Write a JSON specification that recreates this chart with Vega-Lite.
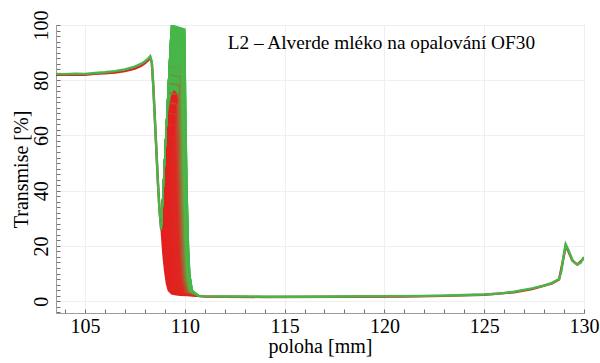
{
  "$schema": "https://vega.github.io/schema/vega-lite/v6.json",
  "width": 528,
  "height": 288,
  "autosize": {"type": "none"},
  "padding": {"left": 56, "top": 25, "right": 16, "bottom": 50},
  "background": "white",
  "config": {
    "font": "Liberation Serif, Times New Roman, Tinos, DejaVu Serif, serif",
    "view": {"stroke": "#9c9c9c", "strokeWidth": 1},
    "axis": {
      "domainColor": "#9c9c9c",
      "tickColor": "#707070",
      "labelFont": "Liberation Serif, Times New Roman, Tinos, DejaVu Serif, serif",
      "titleFont": "Liberation Serif, Times New Roman, Tinos, DejaVu Serif, serif",
      "labelFontSize": 20,
      "titleFontSize": 20,
      "labelColor": "black",
      "titleColor": "black",
      "titleFontWeight": "normal",
      "gridColor": "#efefef"
    }
  },
  "datasets": {
    "bands": [
      {"k": 23, "x": 108.82, "lo": 26, "hi": 26}, {"k": 23, "x": 108.91, "lo": 16.8, "hi": 39.1}, {"k": 23, "x": 109.0, "lo": 10.6, "hi": 52.1}, {"k": 23, "x": 109.09, "lo": 6.2, "hi": 65.2}, {"k": 23, "x": 109.18, "lo": 3.8, "hi": 78.3}, {"k": 23, "x": 109.33, "lo": 2.7, "hi": 100}, {"k": 23, "x": 109.36, "lo": 2.6, "hi": 99.9}, {"k": 23, "x": 109.8, "lo": 2.1, "hi": 99.0}, {"k": 23, "x": 110.0, "lo": 2.0, "hi": 98.5}, {"k": 23, "x": 110.063, "lo": 2.0, "hi": 61.8}, {"k": 23, "x": 110.125, "lo": 2.0, "hi": 36.7}, {"k": 23, "x": 110.188, "lo": 2.0, "hi": 19.3}, {"k": 23, "x": 110.25, "lo": 2.0, "hi": 9.6}, {"k": 23, "x": 110.375, "lo": 1.95, "hi": 3.8}, {"k": 23, "x": 110.7, "lo": 1.9, "hi": 1.9},
      {"k": 0, "x": 108.82, "lo": 26, "hi": 26}, {"k": 0, "x": 108.91, "lo": 16.8, "hi": 37.5}, {"k": 0, "x": 109.0, "lo": 10.6, "hi": 49.0}, {"k": 0, "x": 109.09, "lo": 6.2, "hi": 60.5}, {"k": 0, "x": 109.16, "lo": 4.3, "hi": 68.0}, {"k": 0, "x": 109.3, "lo": 2.8, "hi": 74.0}, {"k": 0, "x": 109.45, "lo": 2.5, "hi": 76.5}, {"k": 0, "x": 109.6, "lo": 2.3, "hi": 75.5}, {"k": 0, "x": 109.679, "lo": 2.2, "hi": 72.8}, {"k": 0, "x": 109.756, "lo": 2.15, "hi": 47.1}, {"k": 0, "x": 109.833, "lo": 2.1, "hi": 28.1}, {"k": 0, "x": 109.909, "lo": 2.05, "hi": 15.0}, {"k": 0, "x": 109.986, "lo": 2.0, "hi": 7.7}, {"k": 0, "x": 110.14, "lo": 2.0, "hi": 3.4}, {"k": 0, "x": 110.4, "lo": 1.9, "hi": 2.3}
    ],
    "base": [
      {"id": "Lr", "k": 0, "x": 103.55, "y": 82.0}, {"id": "Lr", "k": 0, "x": 104, "y": 82.0}, {"id": "Lr", "k": 0, "x": 104.5, "y": 82.1}, {"id": "Lr", "k": 0, "x": 105, "y": 82.0}, {"id": "Lr", "k": 0, "x": 105.5, "y": 82.3}, {"id": "Lr", "k": 0, "x": 106, "y": 82.5}, {"id": "Lr", "k": 0, "x": 106.5, "y": 82.8}, {"id": "Lr", "k": 0, "x": 107, "y": 83.3}, {"id": "Lr", "k": 0, "x": 107.5, "y": 84.2}, {"id": "Lr", "k": 0, "x": 107.8, "y": 85.2}, {"id": "Lr", "k": 0, "x": 108.0, "y": 86.1}, {"id": "Lr", "k": 0, "x": 108.15, "y": 87.1}, {"id": "Lr", "k": 0, "x": 108.27, "y": 88.2}, {"id": "Lr", "k": 0, "x": 108.35, "y": 86.3}, {"id": "Lr", "k": 0, "x": 108.42, "y": 78.5}, {"id": "Lr", "k": 0, "x": 108.5, "y": 66.5}, {"id": "Lr", "k": 0, "x": 108.58, "y": 54.5}, {"id": "Lr", "k": 0, "x": 108.66, "y": 42.5}, {"id": "Lr", "k": 0, "x": 108.74, "y": 32.5}, {"id": "Lr", "k": 0, "x": 108.82, "y": 26},
      {"id": "Rr", "k": 0, "x": 110.7, "y": 1.8}, {"id": "Rr", "k": 0, "x": 111, "y": 1.7}, {"id": "Rr", "k": 0, "x": 112, "y": 1.6}, {"id": "Rr", "k": 0, "x": 114, "y": 1.5}, {"id": "Rr", "k": 0, "x": 118, "y": 1.6}, {"id": "Rr", "k": 0, "x": 121, "y": 1.7}, {"id": "Rr", "k": 0, "x": 123, "y": 1.9}, {"id": "Rr", "k": 0, "x": 125, "y": 2.3}, {"id": "Rr", "k": 0, "x": 126.5, "y": 3.2}, {"id": "Rr", "k": 0, "x": 127.4, "y": 4.4}, {"id": "Rr", "k": 0, "x": 128.4, "y": 6.4}, {"id": "Rr", "k": 0, "x": 128.75, "y": 7.8}, {"id": "Rr", "k": 0, "x": 128.97, "y": 15.5}, {"id": "Rr", "k": 0, "x": 129.08, "y": 20.0}, {"id": "Rr", "k": 0, "x": 129.22, "y": 18.0}, {"id": "Rr", "k": 0, "x": 129.42, "y": 14.6}, {"id": "Rr", "k": 0, "x": 129.67, "y": 13.2}, {"id": "Rr", "k": 0, "x": 130, "y": 15.6},
      {"id": "Lg", "k": 23, "x": 103.55, "y": 82.3}, {"id": "Lg", "k": 23, "x": 104, "y": 82.2}, {"id": "Lg", "k": 23, "x": 104.5, "y": 82.4}, {"id": "Lg", "k": 23, "x": 105, "y": 82.3}, {"id": "Lg", "k": 23, "x": 105.5, "y": 82.6}, {"id": "Lg", "k": 23, "x": 106, "y": 82.9}, {"id": "Lg", "k": 23, "x": 106.5, "y": 83.3}, {"id": "Lg", "k": 23, "x": 107, "y": 83.9}, {"id": "Lg", "k": 23, "x": 107.5, "y": 84.9}, {"id": "Lg", "k": 23, "x": 107.8, "y": 85.9}, {"id": "Lg", "k": 23, "x": 108.0, "y": 86.8}, {"id": "Lg", "k": 23, "x": 108.15, "y": 87.7}, {"id": "Lg", "k": 23, "x": 108.27, "y": 88.7}, {"id": "Lg", "k": 23, "x": 108.35, "y": 86.5}, {"id": "Lg", "k": 23, "x": 108.42, "y": 78.2}, {"id": "Lg", "k": 23, "x": 108.5, "y": 66.2}, {"id": "Lg", "k": 23, "x": 108.58, "y": 54.2}, {"id": "Lg", "k": 23, "x": 108.66, "y": 42.2}, {"id": "Lg", "k": 23, "x": 108.74, "y": 32.2}, {"id": "Lg", "k": 23, "x": 108.82, "y": 26},
      {"id": "Rg", "k": 23, "x": 110.7, "y": 1.9}, {"id": "Rg", "k": 23, "x": 111, "y": 1.8}, {"id": "Rg", "k": 23, "x": 112, "y": 1.7}, {"id": "Rg", "k": 23, "x": 113, "y": 1.7}, {"id": "Rg", "k": 23, "x": 114, "y": 1.6}, {"id": "Rg", "k": 23, "x": 116, "y": 1.6}, {"id": "Rg", "k": 23, "x": 118, "y": 1.7}, {"id": "Rg", "k": 23, "x": 120, "y": 1.8}, {"id": "Rg", "k": 23, "x": 121, "y": 1.8}, {"id": "Rg", "k": 23, "x": 122, "y": 1.9}, {"id": "Rg", "k": 23, "x": 123, "y": 2.0}, {"id": "Rg", "k": 23, "x": 124, "y": 2.2}, {"id": "Rg", "k": 23, "x": 125, "y": 2.4}, {"id": "Rg", "k": 23, "x": 125.75, "y": 2.7}, {"id": "Rg", "k": 23, "x": 126.5, "y": 3.4}, {"id": "Rg", "k": 23, "x": 127.4, "y": 4.6}, {"id": "Rg", "k": 23, "x": 128, "y": 5.6}, {"id": "Rg", "k": 23, "x": 128.4, "y": 6.6}, {"id": "Rg", "k": 23, "x": 128.75, "y": 8.0}, {"id": "Rg", "k": 23, "x": 128.87, "y": 11}, {"id": "Rg", "k": 23, "x": 128.97, "y": 16}, {"id": "Rg", "k": 23, "x": 129.08, "y": 20.6}, {"id": "Rg", "k": 23, "x": 129.22, "y": 18.5}, {"id": "Rg", "k": 23, "x": 129.42, "y": 14.9}, {"id": "Rg", "k": 23, "x": 129.55, "y": 13.8}, {"id": "Rg", "k": 23, "x": 129.67, "y": 13.4}, {"id": "Rg", "k": 23, "x": 129.83, "y": 13.9}, {"id": "Rg", "k": 23, "x": 130, "y": 16}
    ],
    "fan": [
      {"k": 0, "x": 108.82, "y": 26}, {"k": 0, "x": 108.91, "y": 16.8}, {"k": 0, "x": 109.0, "y": 10.6}, {"k": 0, "x": 109.09, "y": 6.2}, {"k": 0, "x": 109.18, "y": 3.8}, {"k": 0, "x": 109.36, "y": 2.6}, {"k": 0, "x": 109.8, "y": 2.1}, {"k": 0, "x": 110.7, "y": 1.9},
      {"k": 1, "x": 108.82, "y": 26}, {"k": 1, "x": 108.857, "y": 31.4}, {"k": 1, "x": 108.92, "y": 31.3}, {"k": 1, "x": 109.009, "y": 20.1}, {"k": 1, "x": 109.098, "y": 12.5}, {"k": 1, "x": 109.186, "y": 7.2}, {"k": 1, "x": 109.275, "y": 4.3}, {"k": 1, "x": 109.453, "y": 2.5}, {"k": 1, "x": 110.7, "y": 1.9},
      {"k": 2, "x": 108.82, "y": 26}, {"k": 2, "x": 108.893, "y": 36.6}, {"k": 2, "x": 109.016, "y": 36.5}, {"k": 2, "x": 109.104, "y": 23.4}, {"k": 2, "x": 109.191, "y": 14.4}, {"k": 2, "x": 109.279, "y": 8.1}, {"k": 2, "x": 109.366, "y": 4.7}, {"k": 2, "x": 109.541, "y": 2.6}, {"k": 2, "x": 110.7, "y": 1.9},
      {"k": 3, "x": 108.82, "y": 26}, {"k": 3, "x": 108.928, "y": 41.7}, {"k": 3, "x": 109.108, "y": 41.5}, {"k": 3, "x": 109.195, "y": 26.5}, {"k": 3, "x": 109.281, "y": 16.2}, {"k": 3, "x": 109.368, "y": 9.0}, {"k": 3, "x": 109.454, "y": 5.1}, {"k": 3, "x": 109.627, "y": 2.7}, {"k": 3, "x": 110.7, "y": 1.9},
      {"k": 4, "x": 108.82, "y": 26}, {"k": 4, "x": 108.961, "y": 46.5}, {"k": 4, "x": 109.195, "y": 46.3}, {"k": 4, "x": 109.28, "y": 29.4}, {"k": 4, "x": 109.366, "y": 17.9}, {"k": 4, "x": 109.451, "y": 9.9}, {"k": 4, "x": 109.536, "y": 5.5}, {"k": 4, "x": 109.707, "y": 2.8}, {"k": 4, "x": 110.7, "y": 1.9},
      {"k": 5, "x": 108.82, "y": 26}, {"k": 5, "x": 108.994, "y": 51.2}, {"k": 5, "x": 109.277, "y": 50.9}, {"k": 5, "x": 109.361, "y": 32.3}, {"k": 5, "x": 109.445, "y": 19.5}, {"k": 5, "x": 109.529, "y": 10.7}, {"k": 5, "x": 109.613, "y": 5.8}, {"k": 5, "x": 109.781, "y": 2.9}, {"k": 5, "x": 110.7, "y": 1.9},
      {"k": 6, "x": 108.82, "y": 26}, {"k": 6, "x": 109.025, "y": 55.7}, {"k": 6, "x": 109.355, "y": 55.3}, {"k": 6, "x": 109.438, "y": 35.0}, {"k": 6, "x": 109.521, "y": 21.1}, {"k": 6, "x": 109.603, "y": 11.5}, {"k": 6, "x": 109.686, "y": 6.2}, {"k": 6, "x": 109.852, "y": 3.0}, {"k": 6, "x": 110.7, "y": 1.9},
      {"k": 7, "x": 108.82, "y": 26}, {"k": 7, "x": 109.055, "y": 60.1}, {"k": 7, "x": 109.429, "y": 59.6}, {"k": 7, "x": 109.511, "y": 37.7}, {"k": 7, "x": 109.593, "y": 22.7}, {"k": 7, "x": 109.674, "y": 12.3}, {"k": 7, "x": 109.756, "y": 6.5}, {"k": 7, "x": 109.92, "y": 3.1}, {"k": 7, "x": 110.7, "y": 1.9},
      {"k": 8, "x": 108.82, "y": 26}, {"k": 8, "x": 109.083, "y": 64.2}, {"k": 8, "x": 109.498, "y": 63.7}, {"k": 8, "x": 109.579, "y": 40.2}, {"k": 8, "x": 109.659, "y": 24.1}, {"k": 8, "x": 109.74, "y": 13.0}, {"k": 8, "x": 109.82, "y": 6.8}, {"k": 8, "x": 109.981, "y": 3.1}, {"k": 8, "x": 110.7, "y": 1.9},
      {"k": 9, "x": 108.82, "y": 26}, {"k": 9, "x": 109.111, "y": 68.2}, {"k": 9, "x": 109.563, "y": 67.6}, {"k": 9, "x": 109.642, "y": 42.6}, {"k": 9, "x": 109.722, "y": 25.6}, {"k": 9, "x": 109.801, "y": 13.7}, {"k": 9, "x": 109.88, "y": 7.2}, {"k": 9, "x": 110.039, "y": 3.2}, {"k": 9, "x": 110.7, "y": 1.9},
      {"k": 10, "x": 108.82, "y": 26}, {"k": 10, "x": 109.137, "y": 72.0}, {"k": 10, "x": 109.623, "y": 71.3}, {"k": 10, "x": 109.701, "y": 44.9}, {"k": 10, "x": 109.779, "y": 26.9}, {"k": 10, "x": 109.857, "y": 14.4}, {"k": 10, "x": 109.935, "y": 7.5}, {"k": 10, "x": 110.091, "y": 3.3}, {"k": 10, "x": 110.7, "y": 1.9},
      {"k": 11, "x": 108.82, "y": 26}, {"k": 11, "x": 109.161, "y": 75.5}, {"k": 11, "x": 109.679, "y": 74.8}, {"k": 11, "x": 109.756, "y": 47.1}, {"k": 11, "x": 109.833, "y": 28.1}, {"k": 11, "x": 109.909, "y": 15.0}, {"k": 11, "x": 109.986, "y": 7.7}, {"k": 11, "x": 110.14, "y": 3.4}, {"k": 11, "x": 110.7, "y": 1.9},
      {"k": 12, "x": 108.82, "y": 26}, {"k": 12, "x": 109.185, "y": 78.9}, {"k": 12, "x": 109.73, "y": 78.1}, {"k": 12, "x": 109.806, "y": 49.1}, {"k": 12, "x": 109.882, "y": 29.3}, {"k": 12, "x": 109.957, "y": 15.6}, {"k": 12, "x": 110.033, "y": 8.0}, {"k": 12, "x": 110.185, "y": 3.4}, {"k": 12, "x": 110.7, "y": 1.9},
      {"k": 13, "x": 108.82, "y": 26}, {"k": 13, "x": 109.206, "y": 82.0}, {"k": 13, "x": 109.777, "y": 81.2}, {"k": 13, "x": 109.852, "y": 51.1}, {"k": 13, "x": 109.926, "y": 30.4}, {"k": 13, "x": 110.001, "y": 16.2}, {"k": 13, "x": 110.075, "y": 8.2}, {"k": 13, "x": 110.224, "y": 3.5}, {"k": 13, "x": 110.7, "y": 1.9},
      {"k": 14, "x": 108.82, "y": 26}, {"k": 14, "x": 109.227, "y": 85.0}, {"k": 14, "x": 109.819, "y": 84.1}, {"k": 14, "x": 109.892, "y": 52.9}, {"k": 14, "x": 109.966, "y": 31.5}, {"k": 14, "x": 110.039, "y": 16.7}, {"k": 14, "x": 110.112, "y": 8.5}, {"k": 14, "x": 110.259, "y": 3.5}, {"k": 14, "x": 110.7, "y": 1.9},
      {"k": 15, "x": 108.82, "y": 26}, {"k": 15, "x": 109.245, "y": 87.7}, {"k": 15, "x": 109.857, "y": 86.7}, {"k": 15, "x": 109.929, "y": 54.5}, {"k": 15, "x": 110.001, "y": 32.4}, {"k": 15, "x": 110.073, "y": 17.2}, {"k": 15, "x": 110.145, "y": 8.7}, {"k": 15, "x": 110.289, "y": 3.6}, {"k": 15, "x": 110.7, "y": 1.9},
      {"k": 16, "x": 108.82, "y": 26}, {"k": 16, "x": 109.263, "y": 90.2}, {"k": 16, "x": 109.891, "y": 89.2}, {"k": 16, "x": 109.962, "y": 56.0}, {"k": 16, "x": 110.033, "y": 33.3}, {"k": 16, "x": 110.103, "y": 17.6}, {"k": 16, "x": 110.174, "y": 8.9}, {"k": 16, "x": 110.316, "y": 3.6}, {"k": 16, "x": 110.7, "y": 1.9},
      {"k": 17, "x": 108.82, "y": 26}, {"k": 17, "x": 109.278, "y": 92.5}, {"k": 17, "x": 109.92, "y": 91.4}, {"k": 17, "x": 109.99, "y": 57.4}, {"k": 17, "x": 110.06, "y": 34.1}, {"k": 17, "x": 110.129, "y": 18.0}, {"k": 17, "x": 110.199, "y": 9.1}, {"k": 17, "x": 110.339, "y": 3.7}, {"k": 17, "x": 110.7, "y": 1.9},
      {"k": 18, "x": 108.82, "y": 26}, {"k": 18, "x": 109.292, "y": 94.5}, {"k": 18, "x": 109.944, "y": 93.3}, {"k": 18, "x": 110.013, "y": 58.6}, {"k": 18, "x": 110.081, "y": 34.8}, {"k": 18, "x": 110.15, "y": 18.4}, {"k": 18, "x": 110.218, "y": 9.2}, {"k": 18, "x": 110.355, "y": 3.7}, {"k": 18, "x": 110.7, "y": 1.9},
      {"k": 19, "x": 108.82, "y": 26}, {"k": 19, "x": 109.304, "y": 96.2}, {"k": 19, "x": 109.964, "y": 95.0}, {"k": 19, "x": 110.031, "y": 59.6}, {"k": 19, "x": 110.099, "y": 35.4}, {"k": 19, "x": 110.166, "y": 18.7}, {"k": 19, "x": 110.233, "y": 9.3}, {"k": 19, "x": 110.368, "y": 3.8}, {"k": 19, "x": 110.7, "y": 1.9},
      {"k": 20, "x": 108.82, "y": 26}, {"k": 20, "x": 109.314, "y": 97.7}, {"k": 20, "x": 109.98, "y": 96.4}, {"k": 20, "x": 110.046, "y": 60.5}, {"k": 20, "x": 110.112, "y": 35.9}, {"k": 20, "x": 110.178, "y": 18.9}, {"k": 20, "x": 110.244, "y": 9.5}, {"k": 20, "x": 110.376, "y": 3.8}, {"k": 20, "x": 110.7, "y": 1.9},
      {"k": 21, "x": 108.82, "y": 26}, {"k": 21, "x": 109.322, "y": 98.8}, {"k": 21, "x": 109.991, "y": 97.5}, {"k": 21, "x": 110.056, "y": 61.2}, {"k": 21, "x": 110.121, "y": 36.3}, {"k": 21, "x": 110.186, "y": 19.1}, {"k": 21, "x": 110.251, "y": 9.5}, {"k": 21, "x": 110.381, "y": 3.8}, {"k": 21, "x": 110.7, "y": 1.9},
      {"k": 22, "x": 108.82, "y": 26}, {"k": 22, "x": 109.328, "y": 99.6}, {"k": 22, "x": 109.998, "y": 98.2}, {"k": 22, "x": 110.062, "y": 61.6}, {"k": 22, "x": 110.126, "y": 36.6}, {"k": 22, "x": 110.189, "y": 19.2}, {"k": 22, "x": 110.253, "y": 9.6}, {"k": 22, "x": 110.381, "y": 3.8}, {"k": 22, "x": 110.7, "y": 1.9},
      {"k": 23, "x": 108.82, "y": 26}, {"k": 23, "x": 109.33, "y": 100}, {"k": 23, "x": 110.0, "y": 98.5}, {"k": 23, "x": 110.063, "y": 61.8}, {"k": 23, "x": 110.125, "y": 36.7}, {"k": 23, "x": 110.188, "y": 19.3}, {"k": 23, "x": 110.25, "y": 9.6}, {"k": 23, "x": 110.375, "y": 3.8}, {"k": 23, "x": 110.7, "y": 1.9}
    ],
    "note": [
      {"x": 112.15, "y": 91.3, "label": "L2 – Alverde mléko na opalování OF30"}
    ]
  },
  "encoding": {
    "x": {
      "field": "x",
      "type": "quantitative",
      "scale": {"domain": [103.55, 130], "nice": false, "zero": false},
      "axis": {
        "title": "poloha [mm]",
        "values": [104, 105, 106, 107, 108, 109, 110, 111, 112, 113, 114, 115, 116, 117, 118, 119, 120, 121, 122, 123, 124, 125, 126, 127, 128, 129, 130],
        "labelExpr": "datum.value % 5 === 0 ? datum.label : ''",
        "labelFont": "Liberation Serif, Times New Roman, Tinos, DejaVu Serif, serif",
        "titleFont": "Liberation Serif, Times New Roman, Tinos, DejaVu Serif, serif",
        "tickSize": -4,
        "labelPadding": 7,
        "labelFlush": false,
        "titlePadding": 0,
        "gridOpacity": {"condition": {"test": "datum.value % 5 === 0", "value": 1}, "value": 0}
      }
    },
    "y": {
      "field": "y",
      "type": "quantitative",
      "scale": {"domain": [-4.3, 100], "nice": false, "zero": false},
      "axis": {
        "title": "Transmise [%]",
        "values": [-4, -2, 0, 2, 4, 6, 8, 10, 12, 14, 16, 18, 20, 22, 24, 26, 28, 30, 32, 34, 36, 38, 40, 42, 44, 46, 48, 50, 52, 54, 56, 58, 60, 62, 64, 66, 68, 70, 72, 74, 76, 78, 80, 82, 84, 86, 88, 90, 92, 94, 96, 98, 100],
        "labelExpr": "datum.value % 20 === 0 ? datum.label : ''",
        "labelFont": "Liberation Serif, Times New Roman, Tinos, DejaVu Serif, serif",
        "titleFont": "Liberation Serif, Times New Roman, Tinos, DejaVu Serif, serif",
        "labelAngle": -90,
        "labelAlign": "center",
        "labelBaseline": "alphabetic",
        "tickSize": -4,
        "labelPadding": 13,
        "labelFlush": false,
        "titlePadding": 0,
        "gridOpacity": {"condition": {"test": "datum.value % 20 === 0", "value": 1}, "value": 0}
      }
    }
  },
  "layer": [
    {
      "data": {"name": "bands"},
      "mark": {"type": "area", "clip": true, "opacity": 1},
      "encoding": {
        "y": {"field": "lo", "type": "quantitative", "stack": null},
        "y2": {"field": "hi"},
        "detail": {"field": "k", "type": "quantitative"},
        "color": {"field": "k", "type": "quantitative", "legend": null, "scale": {"domain": [0, 8, 15, 23], "range": ["#e3201f", "#dd2a22", "#53b548", "#45b649"], "interpolate": "rgb"}}
      }
    },
    {
      "data": {"name": "base"},
      "mark": {"type": "line", "strokeWidth": 2.4, "clip": true},
      "encoding": {
        "detail": {"field": "id", "type": "nominal"},
        "color": {"field": "k", "type": "quantitative", "legend": null, "scale": {"domain": [0, 8, 15, 23], "range": ["#e3201f", "#dd2a22", "#53b548", "#45b649"], "interpolate": "rgb"}}
      }
    },
    {
      "data": {"name": "fan"},
      "mark": {"type": "line", "strokeWidth": 1.5, "clip": true},
      "encoding": {
        "detail": {"field": "k", "type": "quantitative"},
        "color": {"field": "k", "type": "quantitative", "legend": null, "scale": {"domain": [0, 8, 15, 23], "range": ["#e3201f", "#dd2a22", "#53b548", "#45b649"], "interpolate": "rgb"}}
      }
    },
    {
      "data": {"name": "note"},
      "mark": {"type": "text", "align": "left", "baseline": "alphabetic", "fontSize": 19.3, "font": "Liberation Serif, Times New Roman, Tinos, DejaVu Serif, serif", "color": "black"},
      "encoding": {
        "text": {"field": "label", "type": "nominal"}
      }
    }
  ]
}
